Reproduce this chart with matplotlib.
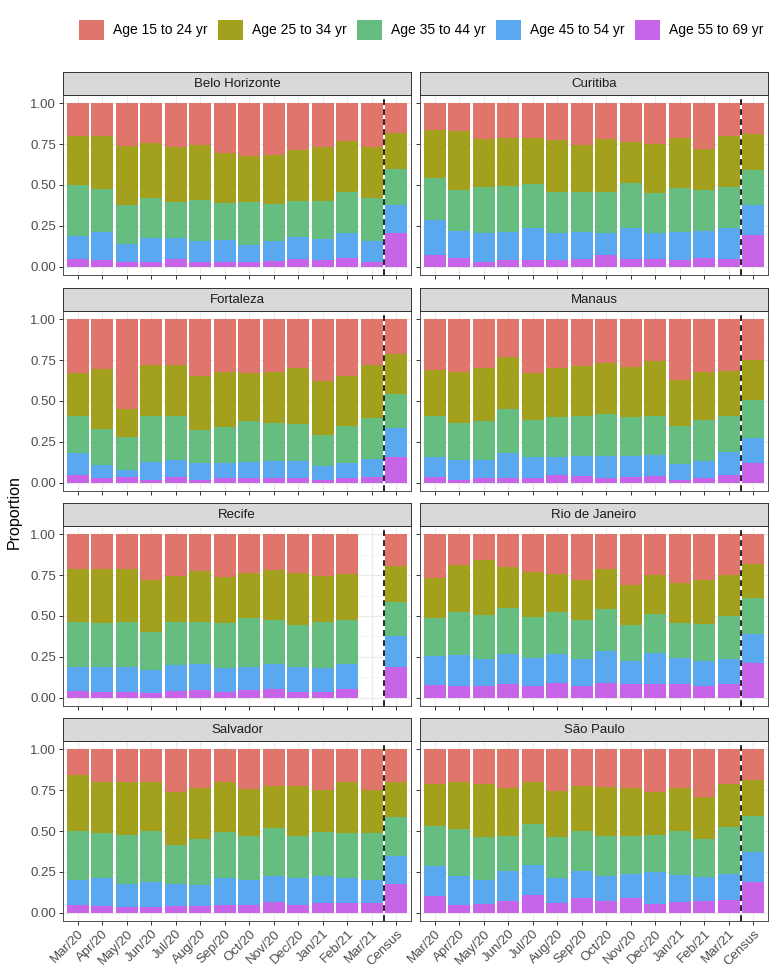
import numpy as np
import matplotlib.pyplot as plt
from matplotlib.patches import Patch
from matplotlib.ticker import MultipleLocator

plt.rcParams['font.family'] = ['Liberation Sans', 'DejaVu Sans']

months = ['Mar/20', 'Apr/20', 'May/20', 'Jun/20', 'Jul/20', 'Aug/20', 'Sep/20',
          'Oct/20', 'Nov/20', 'Dec/20', 'Jan/21', 'Feb/21', 'Mar/21', 'Census']
age_groups = ['Age 15 to 24 yr', 'Age 25 to 34 yr', 'Age 35 to 44 yr',
              'Age 45 to 54 yr', 'Age 55 to 69 yr']
colors = ['#E0756C', '#A3A01E', '#66BD80', '#5AA8F0', '#C864E8']
cities = ['Belo Horizonte', 'Curitiba', 'Fortaleza', 'Manaus',
          'Recife', 'Rio de Janeiro', 'Salvador', 'São Paulo']

# cumulative top of each band, from the bottom up
# rows: 55-69, 45-54, 35-44, 25-34 (15-24 fills the rest up to 1)
belo_horizonte = [
    [0.045, 0.04, 0.03, 0.03, 0.045, 0.03, 0.03, 0.03, 0.035, 0.045, 0.04, 0.055, 0.03, 0.205],
    [0.19, 0.21, 0.14, 0.175, 0.175, 0.155, 0.165, 0.135, 0.155, 0.185, 0.17, 0.205, 0.155, 0.375],
    [0.50, 0.475, 0.38, 0.42, 0.395, 0.41, 0.39, 0.395, 0.385, 0.40, 0.40, 0.455, 0.42, 0.60],
    [0.80, 0.80, 0.74, 0.755, 0.735, 0.745, 0.695, 0.68, 0.685, 0.715, 0.73, 0.77, 0.735, 0.815],
]
curitiba = [
    [0.07, 0.055, 0.03, 0.04, 0.04, 0.04, 0.045, 0.07, 0.05, 0.045, 0.04, 0.055, 0.05, 0.195],
    [0.285, 0.22, 0.205, 0.215, 0.24, 0.205, 0.215, 0.205, 0.24, 0.205, 0.215, 0.22, 0.24, 0.375],
    [0.545, 0.47, 0.485, 0.495, 0.505, 0.46, 0.46, 0.46, 0.51, 0.45, 0.48, 0.47, 0.49, 0.59],
    [0.835, 0.83, 0.78, 0.79, 0.79, 0.775, 0.745, 0.78, 0.765, 0.75, 0.79, 0.72, 0.80, 0.81],
]
fortaleza = [
    [0.05, 0.027, 0.037, 0.02, 0.037, 0.02, 0.03, 0.03, 0.03, 0.027, 0.02, 0.03, 0.033, 0.16],
    [0.18, 0.11, 0.08, 0.13, 0.14, 0.12, 0.12, 0.13, 0.135, 0.135, 0.105, 0.12, 0.145, 0.335],
    [0.41, 0.33, 0.28, 0.41, 0.41, 0.32, 0.34, 0.38, 0.365, 0.36, 0.295, 0.345, 0.395, 0.545],
    [0.67, 0.695, 0.45, 0.72, 0.72, 0.65, 0.68, 0.67, 0.68, 0.70, 0.62, 0.655, 0.72, 0.79],
]
manaus = [
    [0.037, 0.016, 0.027, 0.03, 0.027, 0.047, 0.04, 0.027, 0.035, 0.04, 0.016, 0.03, 0.047, 0.12],
    [0.16, 0.14, 0.14, 0.18, 0.16, 0.155, 0.165, 0.165, 0.165, 0.17, 0.115, 0.135, 0.19, 0.275],
    [0.41, 0.365, 0.38, 0.45, 0.385, 0.40, 0.41, 0.42, 0.405, 0.41, 0.35, 0.385, 0.41, 0.505],
    [0.69, 0.68, 0.70, 0.77, 0.67, 0.70, 0.715, 0.73, 0.705, 0.745, 0.63, 0.68, 0.685, 0.75],
]
recife = [
    [0.04, 0.037, 0.037, 0.03, 0.043, 0.047, 0.037, 0.047, 0.053, 0.033, 0.037, 0.053, np.nan, 0.19],
    [0.19, 0.19, 0.19, 0.167, 0.198, 0.208, 0.185, 0.19, 0.208, 0.19, 0.18, 0.208, np.nan, 0.375],
    [0.465, 0.46, 0.463, 0.40, 0.463, 0.463, 0.46, 0.485, 0.477, 0.447, 0.463, 0.473, np.nan, 0.586],
    [0.79, 0.785, 0.785, 0.72, 0.745, 0.775, 0.737, 0.76, 0.78, 0.765, 0.745, 0.757, np.nan, 0.806],
]
rio_de_janeiro = [
    [0.078, 0.072, 0.072, 0.082, 0.072, 0.088, 0.074, 0.093, 0.082, 0.086, 0.082, 0.072, 0.082, 0.212],
    [0.253, 0.26, 0.24, 0.267, 0.245, 0.27, 0.24, 0.284, 0.226, 0.276, 0.243, 0.226, 0.24, 0.387],
    [0.49, 0.527, 0.508, 0.547, 0.494, 0.527, 0.477, 0.54, 0.447, 0.512, 0.457, 0.45, 0.498, 0.607],
    [0.73, 0.813, 0.84, 0.80, 0.77, 0.757, 0.72, 0.79, 0.69, 0.75, 0.704, 0.718, 0.753, 0.815],
]
salvador = [
    [0.05, 0.04, 0.035, 0.037, 0.04, 0.04, 0.05, 0.05, 0.065, 0.05, 0.06, 0.06, 0.057, 0.174],
    [0.20, 0.21, 0.176, 0.19, 0.174, 0.168, 0.213, 0.20, 0.227, 0.21, 0.227, 0.21, 0.20, 0.35],
    [0.50, 0.487, 0.478, 0.50, 0.417, 0.45, 0.493, 0.472, 0.52, 0.472, 0.493, 0.485, 0.49, 0.585],
    [0.84, 0.80, 0.80, 0.80, 0.738, 0.765, 0.80, 0.755, 0.777, 0.777, 0.753, 0.797, 0.75, 0.80],
]
sao_paulo = [
    [0.10, 0.05, 0.053, 0.07, 0.106, 0.057, 0.09, 0.07, 0.09, 0.053, 0.065, 0.074, 0.078, 0.19],
    [0.286, 0.227, 0.198, 0.254, 0.294, 0.213, 0.258, 0.227, 0.24, 0.252, 0.229, 0.22, 0.24, 0.37],
    [0.53, 0.51, 0.466, 0.472, 0.54, 0.466, 0.50, 0.472, 0.472, 0.476, 0.50, 0.452, 0.525, 0.593],
    [0.785, 0.80, 0.79, 0.76, 0.80, 0.744, 0.777, 0.77, 0.76, 0.736, 0.76, 0.708, 0.79, 0.81],
]
city_data = [belo_horizonte, curitiba, fortaleza, manaus,
             recife, rio_de_janeiro, salvador, sao_paulo]

W, H = 777, 977
fig = plt.figure(figsize=(W / 100, H / 100), dpi=100)

row_tops = [95, 311, 526, 741]
col_lefts = [63, 420]
pw, ph, sh = 348, 180, 23
x = np.arange(len(months))
stack_colors = colors[::-1]  # bottom band first

for i, (city, cum) in enumerate(zip(cities, city_data)):
    r, c = divmod(i, 2)
    left, top = col_lefts[c], row_tops[r]
    ax = fig.add_axes([left / W, 1 - (top + ph) / H, pw / W, ph / H])
    cum = np.array(cum)
    bounds = np.vstack([np.zeros(len(x)), cum, np.ones(len(x))])
    props = np.diff(bounds, axis=0)
    for k in range(5):
        ax.bar(x, props[k], bottom=bounds[k], width=0.9,
               color=stack_colors[k], linewidth=0)
    ax.axvline(12.5, color='black', ls=(0, (3.5, 2.5)), lw=1.2)

    ax.set_xlim(-0.6, 13.6)
    ax.set_ylim(-0.05, 1.05)
    ax.set_axisbelow(True)
    ax.set_xticks(x)
    ax.set_yticks([0, 0.25, 0.5, 0.75, 1.0])
    ax.yaxis.set_minor_locator(MultipleLocator(0.125))
    ax.grid(which='major', color='#EBEBEB', lw=0.9)
    ax.grid(which='minor', axis='y', color='#F2F2F2', lw=0.5)
    ax.tick_params(which='minor', length=0)
    ax.tick_params(which='major', length=3, width=0.7, color='#333333',
                   labelsize=9.5, labelcolor='#4D4D4D', pad=2)
    for sp in ax.spines.values():
        sp.set_color('#4D4D4D')
        sp.set_linewidth(0.7)

    if c == 0:
        ax.set_yticklabels(['0.00', '0.25', '0.50', '0.75', '1.00'])
    else:
        ax.set_yticklabels([])
    if r == 3:
        ax.set_xticklabels(months, rotation=45, ha='right',
                           rotation_mode='anchor')
    else:
        ax.set_xticklabels([])

    sax = fig.add_axes([left / W, 1 - top / H, pw / W, sh / H])
    sax.set_facecolor('#D9D9D9')
    sax.set_xticks([])
    sax.set_yticks([])
    for sp in sax.spines.values():
        sp.set_color('#333333')
        sp.set_linewidth(0.7)
    sax.text(0.5, 0.48, city, ha='center', va='center', fontsize=9.5,
             color='#1A1A1A', transform=sax.transAxes)

fig.text(14 / W, 1 - 512 / H, 'Proportion', rotation=90, ha='center',
         va='center', fontsize=11.5)

handles = [Patch(facecolor=col, edgecolor='none') for col in colors]
fig.legend(handles, age_groups, loc='center', ncol=5,
           bbox_to_anchor=(421 / W, 1 - 30 / H), frameon=False,
           fontsize=10, handlelength=1.8, handleheight=1.75,
           handletextpad=0.65, columnspacing=0.75, borderpad=0)

fig.savefig('out.png', dpi=100)
